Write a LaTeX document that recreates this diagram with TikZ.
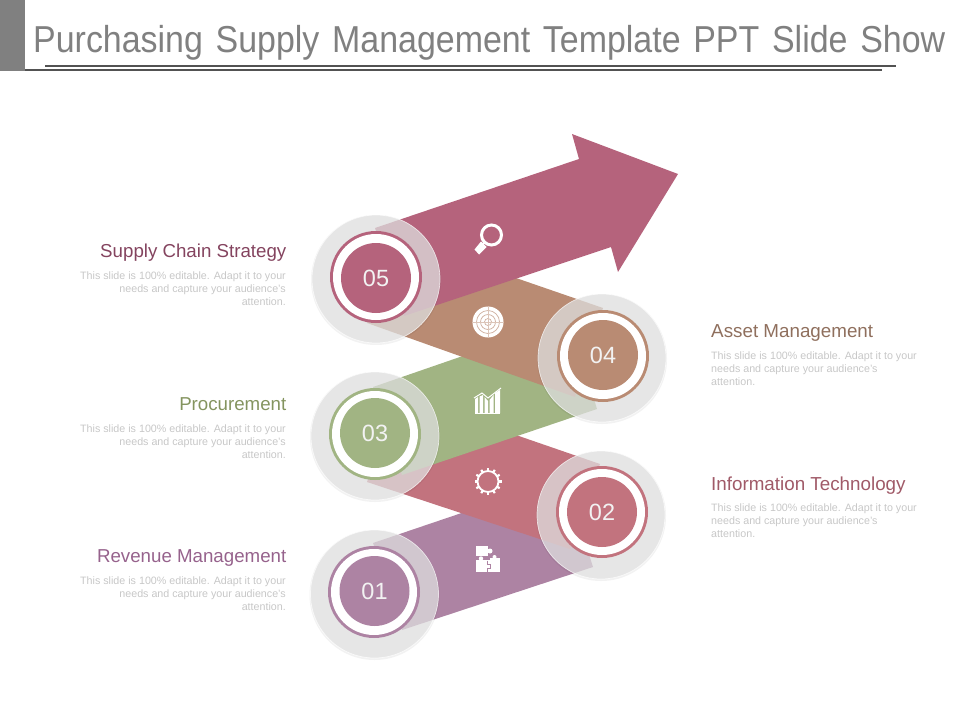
\documentclass[tikz,border=0pt]{standalone}
\usepackage{fontspec}
\setmainfont{Liberation Sans}
\newfontfamily\titlefont[FakeStretch=0.905,WordSpace=1.35]{Liberation Sans}
\definecolor{cFive}{HTML}{B5637C}
\definecolor{cFour}{HTML}{B98B73}
\definecolor{cThree}{HTML}{A1B483}
\definecolor{cTwo}{HTML}{C2737E}
\definecolor{cOne}{HTML}{AD83A3}
\definecolor{tFive}{HTML}{84445F}
\definecolor{tFour}{HTML}{8F6F5D}
\definecolor{tThree}{HTML}{84945F}
\definecolor{tTwo}{HTML}{A05A68}
\definecolor{tOne}{HTML}{96628C}
\definecolor{glassgray}{HTML}{E2E2E2}
\tikzset{
  x=1pt,y=-1pt,
  glass/.style={circle,minimum size=128pt,inner sep=0pt,fill=glassgray,fill opacity=.74,draw=white,draw opacity=.7,line width=.7pt},
  glassshadow/.style={circle,minimum size=130pt,inner sep=0pt,fill=black,fill opacity=.05},
  rimdisc/.style={circle,minimum size=92pt,inner sep=0pt},
  whitedisc/.style={circle,minimum size=86pt,inner sep=0pt,fill=white},
  numdisc/.style={circle,minimum size=70pt,inner sep=0pt,text=white!95!black,font=\fontsize{23.5}{26}\selectfont},
  headl/.style={anchor=base east,inner sep=0pt,font=\fontsize{18.7}{20}\selectfont},
  headr/.style={anchor=base west,inner sep=0pt,font=\fontsize{18.8}{20}\selectfont},
  bodyl/.style={anchor=north east,inner sep=0pt,align=right,text=black!22,font=\fontsize{10.7}{13}\selectfont},
  bodyr/.style={anchor=north west,inner sep=0pt,align=left,text=black!22,font=\fontsize{10.7}{13}\selectfont},
  rulebar/.style={draw=black!68,line width=1.6pt},
  icon/.style={fill=white,draw=none}
}
\begin{document}
\begin{tikzpicture}
\useasboundingbox (0,0) rectangle (960,720);
% header
\fill[black!50] (0,0) rectangle (25,71);
\node[anchor=base west,inner sep=0pt,text=black!50,font=\titlefont\fontsize{37.5}{40}\selectfont] (title) at (33,52) {Purchasing Supply Management Template PPT Slide Show};
\coordinate (ruleAa) at (45,66); \coordinate (ruleAb) at (896,66);
\coordinate (ruleBa) at (25,70); \coordinate (ruleBb) at (882,70);
\draw[rulebar] (ruleAa) -- (ruleAb);
\draw[rulebar] (ruleBa) -- (ruleBb);
% bands, lowest first
\fill[cOne] (373,543) -- (565,478) -- (593,567) -- (402,630) -- cycle;
\fill[cTwo] (367,482) -- (400,395) -- (600,464) -- (570,549) -- cycle;
\fill[cThree] (373,387) -- (570,319) -- (597,409) -- (402,475) -- cycle;
\fill[cFour] (367,323) -- (400,238) -- (603,308) -- (575,397) -- cycle;
\fill[cFive] (375,228) -- (579,159) -- (572,134) -- (678,174) -- (618,272) -- (611,247) -- (404,316) -- cycle;
% glass rings
\node[glassshadow] (s1) at (374.5,595) {};
\node[glass] (g1) at (374.5,594) {};
\node[glassshadow] (s2) at (601,516) {};
\node[glass] (g2) at (601,515) {};
\node[glassshadow] (s3) at (375,437) {};
\node[glass] (g3) at (375,436) {};
\node[glassshadow] (s4) at (602,359) {};
\node[glass] (g4) at (602,358) {};
\node[glassshadow] (s5) at (376,280) {};
\node[glass] (g5) at (376,279) {};
% number discs
\node[rimdisc,fill=cOne] (r1) at (374,592) {};
\node[whitedisc] (w1) at (374,592) {};
\node[numdisc,fill=cOne] (n1) at (374.5,591) {01};
\node[rimdisc,fill=cTwo] (r2) at (602,512) {};
\node[whitedisc] (w2) at (602,512) {};
\node[numdisc,fill=cTwo] (n2) at (602,512) {02};
\node[rimdisc,fill=cThree] (r3) at (375,434) {};
\node[whitedisc] (w3) at (375,434) {};
\node[numdisc,fill=cThree] (n3) at (375,433) {03};
\node[rimdisc,fill=cFour] (r4) at (603,356) {};
\node[whitedisc] (w4) at (603,356) {};
\node[numdisc,fill=cFour] (n4) at (603,355) {04};
\node[rimdisc,fill=cFive] (r5) at (376,277) {};
\node[whitedisc] (w5) at (376,277) {};
\node[numdisc,fill=cFive] (n5) at (376,278) {05};
% magnifier
\draw[white,line width=3pt] (491.5,235) circle (10);
\draw[white,line width=2pt] (484,243) -- (481,246);
\fill[icon] (481,241.5) -- (486.5,247) -- (479,254.5) -- (474.5,249.5) -- cycle;
% target
\fill[icon] (488,322) circle (15.5);
\draw[cFour!70!white,line width=.7pt] (488,322) circle (11.5);
\draw[cFour!70!white,line width=.7pt] (488,322) circle (7.5);
\draw[cFour!70!white,line width=.7pt] (488,322) circle (3.5);
\draw[cFour!50!white,line width=.4pt] (472,322) -- (504,322);
\draw[cFour!50!white,line width=.4pt] (488,306) -- (488,338);
% chart
\fill[icon] (475,413) rectangle (500,414);
\fill[icon] (475,399) -- (478,397) -- (478,413) -- (475,413) -- cycle;
\fill[icon] (479.5,396.5) -- (483,395) -- (483,413) -- (479.5,413) -- cycle;
\fill[icon] (484.5,397) -- (488,401) -- (488,413) -- (484.5,413) -- cycle;
\fill[icon] (489.5,400) -- (493.5,395) -- (493.5,413) -- (489.5,413) -- cycle;
\fill[icon] (495,393) -- (500,390) -- (500,413) -- (495,413) -- cycle;
\draw[white,line width=1pt] (474,398) -- (482,393) -- (488,398) -- (501,388);
% gear
\draw[white,line width=1.8pt] (488,481.5) circle (10.5);
\foreach \a in {0,30,...,330}{
  \draw[white,line width=2.2pt] (488,481.5) ++(\a:10.5) -- ++(\a:3);
}
% puzzle
\fill[icon] (476,546) rectangle (488,556);
\fill[icon] (490,551) circle (2.5);
\fill[icon] (476,560) rectangle (500,572);
\fill[icon] (481,558.5) circle (2.2);
\fill[icon] (490,558) rectangle (500,561);
\fill[icon] (494.5,557) circle (2);
\draw[cOne,line width=.6pt] (487,560.5) -- (487,564) -- (490,564) -- (490,568) -- (487,568) -- (487,572);
% left texts
\node[headl,text=tFive] (h5) at (286.5,257) {Supply Chain Strategy};
\node[bodyl] (b5) at (286,271.5) {This slide is 100\% editable.  Adapt it to your\\needs and capture your audience’s\\attention.};
\node[headl,text=tThree] (h3) at (286.5,410) {Procurement};
\node[bodyl] (b3) at (286,424.5) {This slide is 100\% editable.  Adapt it to your\\needs and capture your audience’s\\attention.};
\node[headl,text=tOne] (h1) at (286.5,562) {Revenue Management};
\node[bodyl] (b1) at (286,576.5) {This slide is 100\% editable.  Adapt it to your\\needs and capture your audience’s\\attention.};
% right texts
\node[headr,text=tFour] (h4) at (711,337) {Asset Management};
\node[bodyr] (b4) at (711,351.5) {This slide is 100\% editable.  Adapt it to your\\needs and capture your audience’s\\attention.};
\node[headr,text=tTwo] (h2) at (711,490) {Information Technology};
\node[bodyr] (b2) at (711,503.5) {This slide is 100\% editable.  Adapt it to your\\needs and capture your audience’s\\attention.};
\end{tikzpicture}
\end{document}
